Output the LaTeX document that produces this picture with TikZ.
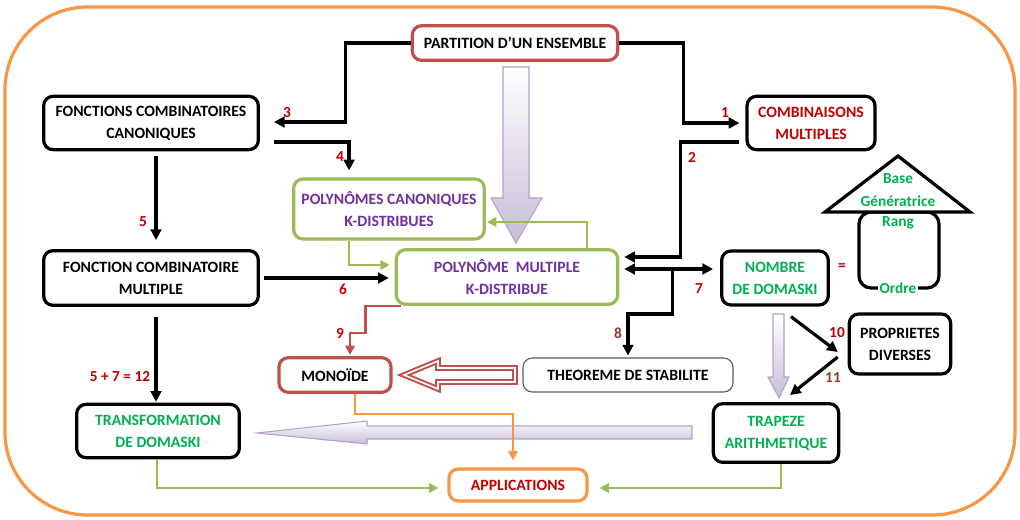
\documentclass[tikz,border=0pt]{standalone}
\usepackage{fontspec}
\setmainfont{Carlito}
\usetikzlibrary{arrows.meta,calc}

\definecolor{rouge}{RGB}{192,0,0}
\definecolor{rougeb}{RGB}{192,80,77}
\definecolor{rougef}{RGB}{149,55,53}
\definecolor{vertb}{RGB}{155,187,89}
\definecolor{vertt}{RGB}{0,176,80}
\definecolor{violett}{RGB}{112,48,160}
\definecolor{orangeb}{RGB}{247,150,70}
\definecolor{lavande}{RGB}{200,188,216}
\definecolor{lavandef}{RGB}{179,162,199}

\tikzset{
	boite/.style={draw, rounded corners=7pt, line width=2.4pt, align=center, inner sep=0pt,
		font=\fontsize{11.8}{16.5}\selectfont\bfseries},
	fleche/.style={-{Triangle[length=8pt,width=8pt]}, line width=2.4pt},
	lien/.style={-{Triangle[length=7pt,width=7pt]}, line width=2pt},
	num/.style={text=rouge, font=\fontsize{11.5}{13}\selectfont\bfseries},
	vt/.style={text=vertt, font=\fontsize{11.5}{13}\selectfont\bfseries},
	grosse/.style={draw=lavandef, line width=0.8pt, top color=white, bottom color=lavande}
}

\begin{document}
\begin{tikzpicture}[x=0.75pt, y=-0.75pt]

				\useasboundingbox (0,0) rectangle (1020,520);

				% Cadre
				\draw[orangeb, line width=2.4pt, rounded corners=62pt] (5,7) rectangle (1015,515);

				% grosses flèches
				\draw[grosse] (503,67) -- (529,67) -- (529,198) -- (542,198) -- (516,243) -- (491,198) -- (503,198) -- cycle;
				\draw[grosse] (773,314) -- (784,314) -- (784,377) -- (789,377) -- (779,398) -- (768,377) -- (773,377) -- cycle;
				\draw[grosse] (692,426) -- (367,426) -- (367,421) -- (257,433) -- (367,444) -- (367,439) -- (692,439) -- cycle;
				\draw[rougeb, line width=1.5pt, double=white, double distance=1.2pt, line join=miter]
					(515,368) -- (438,368) -- (438,361) -- (404,375) -- (438,389) -- (438,382) -- (515,382) -- cycle;

				% Boites
				\node[boite, draw=rougeb, minimum width=154pt, minimum height=26pt] (partition) at (515,43) {PARTITION D’UN ENSEMBLE};
				\node[boite, minimum width=161pt, minimum height=40pt] (fcc) at (151,123) {FONCTIONS COMBINATOIRES\\CANONIQUES};
				\node[boite, text=rouge, minimum width=96pt, minimum height=40pt] (comb) at (811,123) {COMBINAISONS\\MULTIPLES};
				\node[boite, draw=vertb, text=violett, minimum width=143pt, minimum height=45pt] (pck) at (389,209) {POLYNÔMES CANONIQUES\\K-DISTRIBUES};
				\node[boite, draw=vertb, text=violett, minimum width=166pt, minimum height=41pt] (pmk) at (507,277) {POLYNÔME~~MULTIPLE\\K-DISTRIBUE};
				\node[boite, minimum width=161pt, minimum height=41pt] (fcm) at (151,278) {FONCTION COMBINATOIRE\\MULTIPLE};
				\node[boite, text=vertt, minimum width=80pt, minimum height=40.5pt] (nombre) at (775,278) {NOMBRE\\DE DOMASKI};
				\node[boite, minimum width=76pt, minimum height=45pt] (prop) at (900,344) {PROPRIETES\\DIVERSES};
				\node[boite, text=vertt, minimum width=94pt, minimum height=44pt] (trap) at (776,433) {TRAPEZE\\ARITHMETIQUE};
				\node[boite, draw=black!65, line width=0.8pt, minimum width=157.5pt, minimum height=25.5pt] (theo) at (628,375) {THEOREME DE STABILITE};
				\node[boite, draw=rougeb, minimum width=84pt, minimum height=26pt] (mono) at (335,375) {MONOÏDE};
				\node[boite, text=vertt, minimum width=122pt, minimum height=40pt] (transf) at (158,431) {TRANSFORMATION\\DE DOMASKI};
				\node[boite, draw=orangeb, text=rouge, minimum width=103.5pt, minimum height=24pt] (appli) at (518,485) {APPLICATIONS};

				% Base, rang, ordre
				\node[draw, line width=2.4pt, rounded corners=9pt, minimum width=60pt, minimum height=57pt] (cadre) at (899,250) {};
				\draw[line width=2.4pt, fill=white] (825,212) -- (898,156) -- (970,212) -- cycle;
				\node[vt] (base) at (898,179) {Base};
				\node[vt] (gen) at (898,201) {Génératrice};
				\node[vt] (rang) at (898,223) {Rang};
				\node[vt, fill=white, inner sep=1pt] (ordre) at (898,288) {Ordre};
				\node[num] (egal) at (842,267) {=};

				% Fleches noires
				\draw[fleche] (partition.west) -- ++(-65,0) |- ($(fcc.east)+(14,-1)$);
				\draw[fleche] (partition.east) -- ++(64,0) |- ($(comb.west)+(-6,0)$);
				\draw[fleche] ($(comb.west)+(-6,19)$) -- ++(-59,0) |- ($(pmk.east)+(5,-20)$);
				\draw[fleche] ($(fcc.east)+(14,19)$) -| ($(pck.north west)+(57,-7)$);
				\draw[fleche] ($(fcc.south)+(5,5)$) -- ($(fcm.north)+(5,-9)$);
				\draw[fleche] ($(fcm.east)+(4,0)$) -- ($(pmk.west)+(-6,1)$);
				\draw[fleche] ($(fcm.south)+(5,10)$) -- ($(transf.north)+(-2,-1)$);
				\draw[fleche, {Triangle[length=8pt,width=8pt]}-{Triangle[length=8pt,width=8pt]}] ($(pmk.east)+(5,-8)$) -- ($(nombre.west)+(-7,-9)$);
				\coordinate (br) at ($(pmk.east)+(53,-8)$);
				\draw[fleche] (br) -- ++(0,45) -| ($(theo.north)+(0,-2)$);
				\draw[fleche] ($(nombre.south east)+(-39,10)$) -- ($(prop.west)+(-10,8)$);
				\draw[fleche] ($(prop.west)+(-10,13)$) -- ($(trap.north)+(14,-7)$);

				% Fleches de couleur
				\draw[lien, vertb] ($(pck.south)+(-40,0)$) |- ($(pmk.west)+(-5,-12)$);
				\draw[lien, vertb] ($(pmk.north)+(80,0)$) |- ($(pck.east)+(1,13)$);
				\draw[lien, rougeb] ($(pmk.south west)+(6,0)$) -| ++(-35,27) -| ($(mono.north)+(15,-1)$);
				\draw[lien, orangeb] ($(mono.south)+(20,0)$) -- ++(0,20) -| ($(appli.north)+(-5,-7)$);
				\draw[lien, vertb] ($(transf.south)+(-1,0)$) |- ($(appli.west)+(-9,3)$);
				\draw[lien, vertb] ($(trap.south)+(5,0)$) |- ($(appli.east)+(11,3)$);

				% Numeros
				\node[num] (n1) at (725,113) {1};
				\node[num] (n2) at (692,157) {2};
				\node[num] (n3) at (287,113) {3};
				\node[num] (n4) at (340,157) {4};
				\node[num] (n5) at (143,222) {5};
				\node[num] (n6) at (343,289) {6};
				\node[num] (n7) at (699,289) {7};
				\node[num, text=rougef] (n8) at (618,333) {8};
				\node[num] (n9) at (340,333) {9};
				\node[num] (n10) at (837,333) {10};
				\node[num, text=rougef] (n11) at (833,378) {11};
				\node[num] (n12) at (120,377) {5 + 7 = 12};

			\end{tikzpicture}
\end{document}
